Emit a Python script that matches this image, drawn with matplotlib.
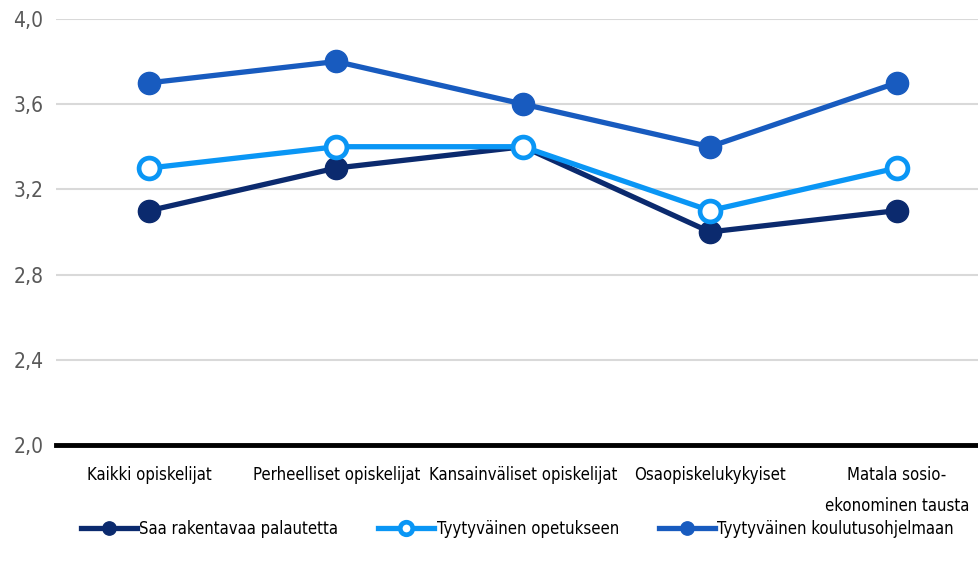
import matplotlib
matplotlib.use('Agg')
import matplotlib.pyplot as plt
import numpy as np

categories = ['Kaikki opiskelijat', 'Perheelliset opiskelijat', 'Kansainväliset opiskelijat',
              'Osaopiskelukykyiset', 'Matala sosio-\nekonominen tausta']
palaute = [3.1, 3.3, 3.4, 3.0, 3.1]
opetus = [3.3, 3.4, 3.4, 3.1, 3.3]
koulutusohjelma = [3.7, 3.8, 3.6, 3.4, 3.7]
yticks = [2.0, 2.4, 2.8, 3.2, 3.6, 4.0]

plt.rcParams['font.family'] = ['DejaVu Sans']
plt.rcParams['font.stretch'] = 'condensed'

fig = plt.figure(figsize=(9.79, 5.69), dpi=100)
ax = fig.add_axes([0.0572, 0.218, 0.9428, 0.7488])

x = np.arange(len(categories))
ax.plot(x, palaute, color='#0b2a6e', lw=3.8, marker='o', ms=16,
        label='Saa rakentavaa palautetta', zorder=3)
ax.plot(x, opetus, color='#0a96f5', lw=3.8, marker='o', ms=15, mfc='white',
        mec='#0a96f5', mew=3.4, label='Tyytyväinen opetukseen', zorder=4)
ax.plot(x, koulutusohjelma, color='#185bbf', lw=3.8, marker='o', ms=16,
        label='Tyytyväinen koulutusohjelmaan', zorder=3)

ax.set_ylim(2.0, 4.0)
ax.set_xlim(-0.5, 4.44)
ax.set_yticks(yticks)
ax.set_yticklabels([('%.1f' % v).replace('.', ',') for v in yticks], color='#595959', fontsize=15)
ax.set_xticks(x)
ax.set_xticklabels(categories, fontsize=12, linespacing=1.95)
ax.tick_params(axis='both', length=0)
ax.tick_params(axis='x', pad=15)
ax.tick_params(axis='y', pad=9)
ax.grid(axis='y', color='#d9d9d9', lw=1.5)
ax.set_axisbelow(True)
for s in ['top', 'right', 'left']:
    ax.spines[s].set_visible(False)
ax.spines['bottom'].set_linewidth(3.5)
ax.spines['bottom'].set_color('black')
ax.spines['bottom'].set_zorder(5)

fig.legend(loc='center', bbox_to_anchor=(0.5286, 0.071), ncol=3, frameon=False,
           fontsize=12, handlelength=3.35, columnspacing=2.4, handletextpad=0.15,
           markerscale=0.6)

fig.savefig('out.png', dpi=100)
